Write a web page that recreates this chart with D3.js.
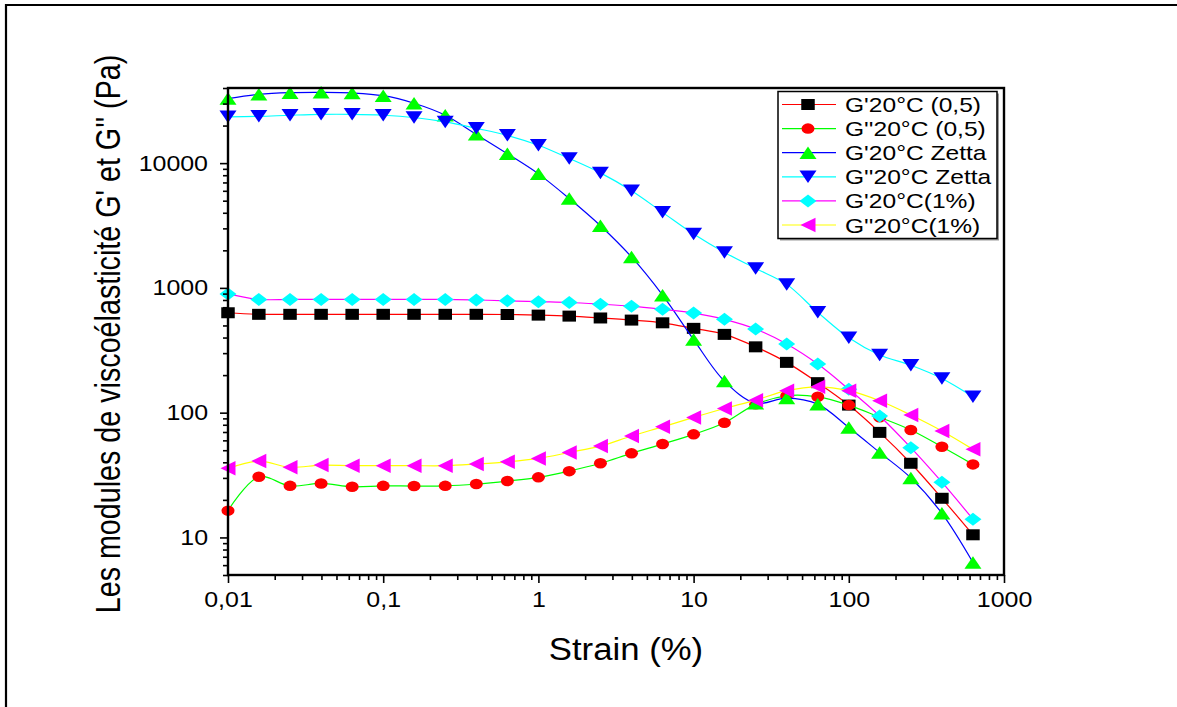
<!DOCTYPE html>
<html>
<head>
<meta charset="utf-8">
<script src="https://cdn.jsdelivr.net/npm/d3@7"></script>
<style>
  html, body { margin: 0; padding: 0; background: #fff; }
  svg { display: block; font-family: "Liberation Sans", Arial, sans-serif; }
</style>
</head>
<body>
<svg id="chart" width="1177" height="707"></svg>
<script>
// Strain sweep (%), five points per decade
const strain = [0.01, 0.0158, 0.0251, 0.0398, 0.0631, 0.1, 0.158, 0.251, 0.398, 0.631,
                1, 1.58, 2.51, 3.98, 6.31, 10, 15.8, 25.1, 39.8, 63.1, 100, 158, 251, 398, 631];

// Moduli (Pa)
const gp05 = [632, 614, 614, 614, 614, 614, 614, 614, 614, 612, 605, 594, 574, 552, 525,
              474, 424, 337, 253, 174, 115, 69.5, 39.3, 20.6, 10.5];
const gpp05 = [16.4, 30.6, 25.9, 27.1, 25.5, 25.9, 25.8, 25.9, 26.8, 28.3, 30.3, 34, 39.3, 47.2, 56,
               67, 83, 116.6, 136.5, 134, 115, 92, 72.6, 53.3, 38.5];
const gpZetta = [32900, 35600, 36700, 36900, 36500, 34700, 30200, 24200, 17000, 11900, 8200, 5200, 3150, 1770, 875,
                 385, 179, 119, 131, 117, 76, 48, 30, 15.6, 6.3];
const gppZetta = [23500, 23700, 24200, 24600, 24600, 24200, 23200, 21400, 19000, 16700, 13900, 10900, 8350, 6000, 4030,
                  2700, 1925, 1432, 1067, 637, 398, 290, 240, 188, 134];
const gp1 = [895, 809, 809, 809, 809, 809, 809, 809, 800, 788, 775, 764, 741, 714, 673,
             628, 560, 468, 355, 245, 154, 94, 52.4, 27.7, 14.0];
const gpp1 = [35.8, 40.9, 36.5, 38.0, 37.6, 37.6, 37.6, 37.6, 38.8, 40.4, 43.0, 48, 54, 65, 77,
              91.6, 108, 126, 150, 161, 150, 124.5, 95.7, 71.3, 50.8];

const seriesNames = ["G'20°C (0,5)", "G''20°C (0,5)", "G'20°C Zetta", "G''20°C Zetta", "G'20°C(1%)", "G''20°C(1%)"];

const xTickValues = [0.01, 0.1, 1, 10, 100, 1000];
const xTickLabels = ["0,01", "0,1", "1", "10", "100", "1000"];
const yTickValues = [10, 100, 1000, 10000];
const yTickLabels = ["10", "100", "1000", "10000"];

const xTitle = "Strain (%)";
const yTitle = "Les modules de viscoélasticité G' et G'' (Pa)";

// ---- layout ----
const svg = d3.select("#chart");
const plot = { left: 228, right: 1004, top: 88, bottom: 575 };
const SX = 1.16; // horizontal stretch of tick-label glyphs

const x = d3.scaleLog().domain([0.01, 1000]).range([plot.left, plot.right]);
const y = d3.scaleLog().domain([5, 40000]).range([plot.bottom, plot.top]);

// outer frame (top and left edges)
svg.append("path")
  .attr("d", "M6,707 V5 H1177")
  .attr("fill", "none").attr("stroke", "#000").attr("stroke-width", 2.2);

// marker shapes, centred on (0,0)
const shapes = {
  square: (w, h) => `M${-w/2},${-h/2}H${w/2}V${h/2}H${-w/2}Z`,
  circle: (w, h) => `M${-w/2},0A${w/2},${h/2} 0 1,0 ${w/2},0A${w/2},${h/2} 0 1,0 ${-w/2},0Z`,
  up: (w, h) => `M0,${-h/2}L${w/2},${h/2}L${-w/2},${h/2}Z`,
  down: (w, h) => `M0,${h/2}L${w/2},${-h/2}L${-w/2},${-h/2}Z`,
  diamond: (w, h) => `M0,${-h/2}L${w/2},0L0,${h/2}L${-w/2},0Z`,
  left: (w, h) => `M${-w/2},0L${w/2},${-h/2}L${w/2},${h/2}Z`
};

const series = [
  { name: seriesNames[0], values: gp05,     line: "#ff0000", fill: "#000000", shape: "square",  w: 13.5, h: 11 },
  { name: seriesNames[1], values: gpp05,    line: "#00ff00", fill: "#ff0000", shape: "circle",  w: 13,   h: 10.5 },
  { name: seriesNames[2], values: gpZetta,  line: "#0000ff", fill: "#00ff00", shape: "up",      w: 17,   h: 12.5 },
  { name: seriesNames[3], values: gppZetta, line: "#00ffff", fill: "#0000ff", shape: "down",    w: 17,   h: 12.5 },
  { name: seriesNames[4], values: gp1,      line: "#ff00ff", fill: "#00ffff", shape: "diamond", w: 17,   h: 13 },
  { name: seriesNames[5], values: gpp1,     line: "#ffff00", fill: "#ff00ff", shape: "left",    w: 15,   h: 14.5 }
];

// ---- data ----
const lineGen = d3.line()
  .x((d, i) => x(strain[i]))
  .y(d => y(d))
  .curve(d3.curveCatmullRom.alpha(0.5));

const dataLayer = svg.append("g");
series.forEach(s => {
  const g = dataLayer.append("g");
  g.append("path")
    .attr("d", lineGen(s.values))
    .attr("fill", "none")
    .attr("stroke", s.line)
    .attr("stroke-width", 1.2);
  g.selectAll("path.m")
    .data(s.values)
    .join("path")
    .attr("class", "m")
    .attr("d", shapes[s.shape](s.w, s.h))
    .attr("transform", (d, i) => `translate(${x(strain[i])},${y(d)})`)
    .attr("fill", s.fill);
});

// ---- axes ----
function stretchText(sel, sx) {
  sel.each(function () {
    const w = this.getComputedTextLength();
    d3.select(this).attr("textLength", w * sx).attr("lengthAdjust", "spacingAndGlyphs");
  });
}

const minorX = [];
for (let e = -2; e < 3; e++) for (let m = 2; m <= 9; m++) minorX.push(m * Math.pow(10, e));
const minorY = [];
for (let e = 0; e < 5; e++) for (let m = 1; m <= 9; m++) {
  const v = m * Math.pow(10, e);
  if (m > 1 && v >= 5 && v <= 40000) minorY.push(v);
}

const axisStyle = g => {
  g.select(".domain").remove();
  g.selectAll("line").attr("stroke", "#000").attr("stroke-width", 1.6);
  g.selectAll("text").attr("fill", "#000").attr("font-size", 21.5)
    .attr("font-family", "'Liberation Sans', Arial, sans-serif");
};

svg.append("g")
  .attr("transform", `translate(0,${plot.bottom})`)
  .call(d3.axisBottom(x).tickValues(minorX).tickSize(5).tickFormat(""))
  .call(axisStyle);
const xAxis = svg.append("g")
  .attr("transform", `translate(0,${plot.bottom})`)
  .call(d3.axisBottom(x).tickValues(xTickValues).tickSize(8).tickPadding(9)
        .tickFormat((d, i) => xTickLabels[i]))
  .call(axisStyle);
stretchText(xAxis.selectAll("text"), SX);

svg.append("g")
  .attr("transform", `translate(${plot.left},0)`)
  .call(d3.axisLeft(y).tickValues(minorY).tickSize(5).tickFormat(""))
  .call(axisStyle);
const yAxis = svg.append("g")
  .attr("transform", `translate(${plot.left},0)`)
  .call(d3.axisLeft(y).tickValues(yTickValues).tickSize(8).tickPadding(12)
        .tickFormat((d, i) => yTickLabels[i]))
  .call(axisStyle);
stretchText(yAxis.selectAll("text"), SX);

// plot frame
svg.append("rect")
  .attr("x", plot.left).attr("y", plot.top)
  .attr("width", plot.right - plot.left).attr("height", plot.bottom - plot.top)
  .attr("fill", "none").attr("stroke", "#000").attr("stroke-width", 2.4);

// axis titles
const xt = svg.append("text")
  .attr("x", 626).attr("y", 660)
  .attr("text-anchor", "middle")
  .attr("font-size", 31)
  .text(xTitle);
stretchText(xt, 1.12);

svg.append("g")
  .attr("transform", `translate(120,334) scale(1.22,1) rotate(-90)`)
  .append("text")
  .attr("text-anchor", "middle")
  .attr("font-size", 28.7)
  .text(yTitle);

// ---- legend ----
const lg = svg.append("g");
const lgBox = { x: 778, y: 91.5, w: 219, h: 147 };
lg.append("rect")
  .attr("x", lgBox.x + 2).attr("y", lgBox.y + 2)
  .attr("width", lgBox.w).attr("height", lgBox.h)
  .attr("fill", "#999");
lg.append("rect")
  .attr("x", lgBox.x).attr("y", lgBox.y)
  .attr("width", lgBox.w).attr("height", lgBox.h)
  .attr("fill", "#fff").attr("stroke", "#000").attr("stroke-width", 1.5);

const rowY = i => 104.5 + i * 24.1;
series.forEach((s, i) => {
  const cy = rowY(i);
  lg.append("line")
    .attr("x1", 782).attr("x2", 836).attr("y1", cy).attr("y2", cy)
    .attr("stroke", s.line).attr("stroke-width", 1.2);
  lg.append("path")
    .attr("d", shapes[s.shape](s.w, s.h))
    .attr("transform", `translate(808,${cy})`)
    .attr("fill", s.fill);
  const t = lg.append("text")
    .attr("x", 845).attr("y", cy + 7.5)
    .attr("font-size", 21)
    .text(s.name);
  stretchText(t, 1.17);
});
</script>
</body>
</html>
